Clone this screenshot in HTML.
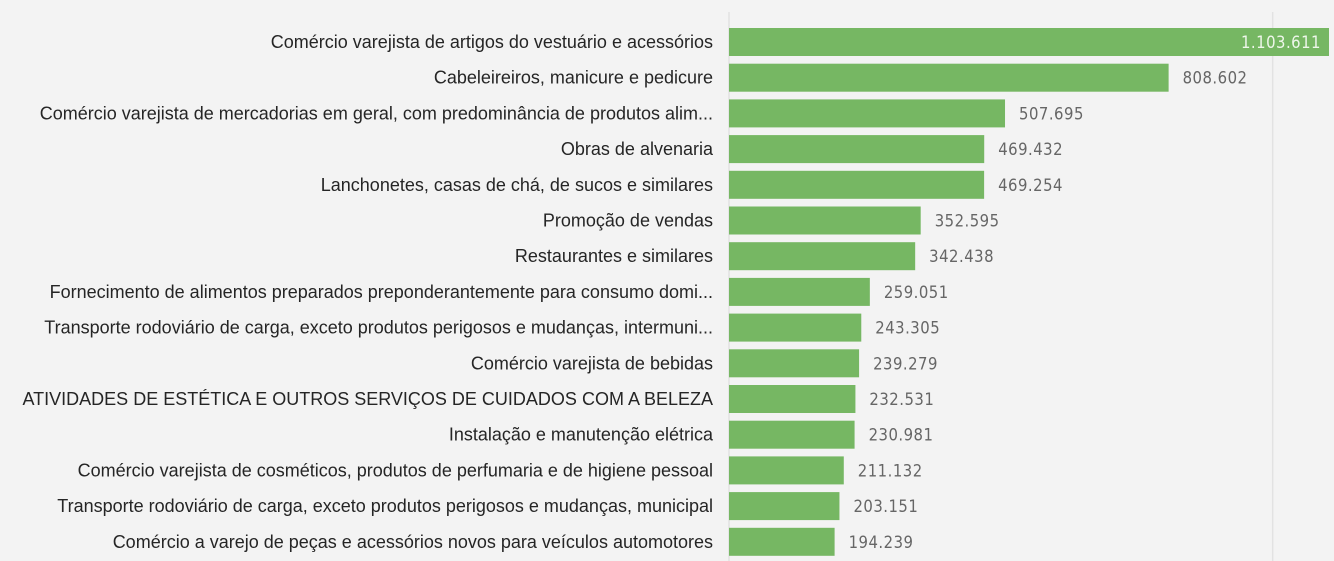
<!DOCTYPE html>
<html><head><meta charset="utf-8"><style>
html,body{margin:0;padding:0;background:#f3f3f3;}
svg{display:block;}
.cat{font-family:"Liberation Sans",sans-serif;font-size:18px;fill:#252525;}
.val{font-family:"DejaVu Sans Condensed","Liberation Sans",sans-serif;font-size:16.5px;fill:#666;letter-spacing:0.5px;}
</style></head><body>
<svg id="chart" width="1334" height="561">
<rect width="1334" height="561" fill="#f3f3f3"/>
</svg>
<script>
const categories=["Comércio varejista de artigos do vestuário e acessórios","Cabeleireiros, manicure e pedicure","Comércio varejista de mercadorias em geral, com predominância de produtos alim...","Obras de alvenaria","Lanchonetes, casas de chá, de sucos e similares","Promoção de vendas","Restaurantes e similares","Fornecimento de alimentos preparados preponderantemente para consumo domi...","Transporte rodoviário de carga, exceto produtos perigosos e mudanças, intermuni...","Comércio varejista de bebidas","ATIVIDADES DE ESTÉTICA E OUTROS SERVIÇOS DE CUIDADOS COM A BELEZA","Instalação e manutenção elétrica","Comércio varejista de cosméticos, produtos de perfumaria e de higiene pessoal","Transporte rodoviário de carga, exceto produtos perigosos e mudanças, municipal","Comércio a varejo de peças e acessórios novos para veículos automotores"];
const values=[1103611,808602,507695,469432,469254,352595,342438,259051,243305,239279,232531,230981,211132,203151,194239];
const gridTicks=[0,1000000];
const svg=document.getElementById('chart');
const NS='http://www.w3.org/2000/svg';
const x0=729,maxV=1103611,wMax=600;
const xs=v=>x0+v/maxV*wMax;
const y0=28,step=35.7,bh=28;
const ys=i=>y0+i*step;
const fmt=v=>v.toString().replace(/\B(?=(\d{3})+(?!\d))/g,'.');
gridTicks.forEach((t,i)=>{const l=document.createElementNS(NS,'line');
l.setAttribute('x1',xs(t));l.setAttribute('x2',xs(t));l.setAttribute('y1',12);l.setAttribute('y2',561);
l.setAttribute('stroke','#e2e2e2');l.setAttribute('stroke-width','1.5');


svg.appendChild(l);});
categories.forEach((c,i)=>{
const y=ys(i);
const t=document.createElementNS(NS,'text');
t.setAttribute('x',713);t.setAttribute('y',y+bh/2+6);t.setAttribute('text-anchor','end');t.setAttribute('class','cat');t.textContent=c;


svg.appendChild(t);
const r=document.createElementNS(NS,'rect');
r.setAttribute('x',x0);r.setAttribute('y',y);r.setAttribute('width',xs(values[i])-x0);r.setAttribute('height',bh);r.setAttribute('fill','#76b763');


svg.appendChild(r);
const v=document.createElementNS(NS,'text');
const inside=i===0;
v.setAttribute('x',inside?xs(values[i])-8:xs(values[i])+14);v.setAttribute('y',y+bh/2+6);
v.setAttribute('text-anchor',inside?'end':'start');v.setAttribute('class','val');
if(inside)v.setAttribute('style','fill:#eef6ea');
v.textContent=fmt(values[i]);


svg.appendChild(v);
});
</script>
</body></html>
